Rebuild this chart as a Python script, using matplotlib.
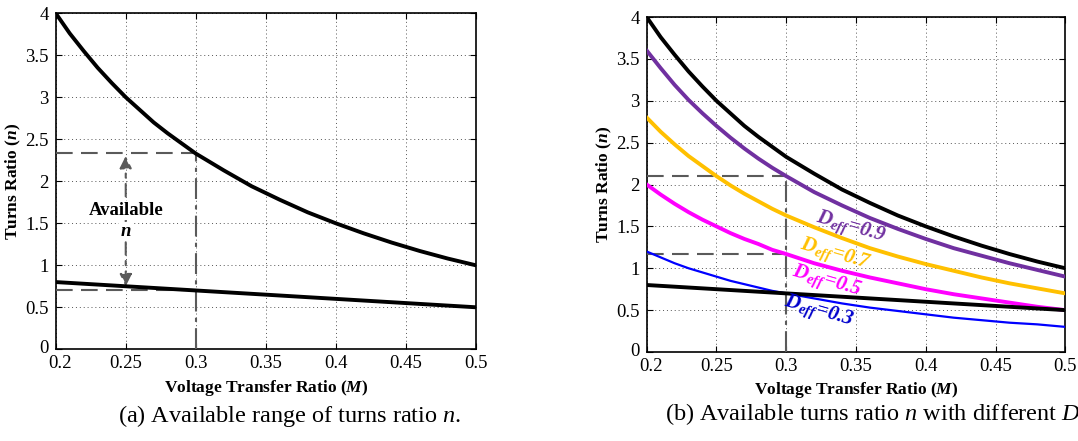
import numpy as np
import matplotlib.pyplot as plt
from matplotlib.transforms import ScaledTranslation

plt.rcParams['font.family'] = 'Liberation Serif'
plt.rcParams['mathtext.fontset'] = 'custom'
plt.rcParams['mathtext.rm'] = 'Liberation Serif'
plt.rcParams['mathtext.it'] = 'Liberation Serif:italic'
plt.rcParams['mathtext.bf'] = 'Liberation Serif:bold'
plt.rcParams['mathtext.bfit'] = 'Liberation Serif:bold:italic'

# voltage transfer ratio samples
M = [0.20, 0.21, 0.22, 0.23, 0.24, 0.25, 0.26, 0.27, 0.28, 0.29, 0.30,
     0.32, 0.34, 0.36, 0.38, 0.40, 0.42, 0.44, 0.46, 0.48, 0.50]

# upper and lower bound of the turns ratio
n_upper = [4.00, 3.76, 3.55, 3.35, 3.17, 3.00, 2.85, 2.70, 2.57, 2.45, 2.33,
           2.13, 1.94, 1.78, 1.63, 1.50, 1.38, 1.27, 1.17, 1.08, 1.00]
n_lower = [0.80, 0.79, 0.78, 0.77, 0.76, 0.75, 0.74, 0.73, 0.72, 0.71, 0.70,
           0.68, 0.66, 0.64, 0.62, 0.60, 0.58, 0.56, 0.54, 0.52, 0.50]

# turns ratio for several effective duty cycles
n_d09 = [3.60, 3.39, 3.19, 3.01, 2.85, 2.70, 2.56, 2.43, 2.31, 2.20, 2.10,
         1.91, 1.75, 1.60, 1.47, 1.35, 1.24, 1.15, 1.06, 0.98, 0.90]
n_d07 = [2.80, 2.63, 2.48, 2.34, 2.22, 2.10, 1.99, 1.89, 1.80, 1.71, 1.63,
         1.49, 1.36, 1.24, 1.14, 1.05, 0.97, 0.89, 0.82, 0.76, 0.70]
n_d05 = [2.00, 1.88, 1.77, 1.67, 1.58, 1.50, 1.42, 1.35, 1.29, 1.22, 1.17,
         1.06, 0.97, 0.89, 0.82, 0.75, 0.69, 0.64, 0.59, 0.54, 0.50]
n_d03 = [1.20, 1.13, 1.06, 1.00, 0.95, 0.90, 0.85, 0.81, 0.77, 0.73, 0.70,
         0.64, 0.58, 0.53, 0.49, 0.45, 0.41, 0.38, 0.35, 0.33, 0.30]

x_ticks = [0.2, 0.25, 0.3, 0.35, 0.4, 0.45, 0.5]
x_labels = ['0.2', '0.25', '0.3', '0.35', '0.4', '0.45', '0.5']
y_ticks = [0, 0.5, 1, 1.5, 2, 2.5, 3, 3.5, 4]
y_labels = ['0', '0.5', '1', '1.5', '2', '2.5', '3', '3.5', '4']

# operating point used for the guide lines
M_op = 0.3
n_max_a = 2.333
n_min_a = 0.70
n_max_b = 2.10
n_min_b = 1.167

guide = '#5a5a5a'

fig = plt.figure(figsize=(10.78, 4.41), dpi=100)
ax1 = fig.add_axes([0.0517, 0.208, 0.3896, 0.762])
ax2 = fig.add_axes([0.5999, 0.2018, 0.3883, 0.7596])


def style_axes(ax):
    ax.set_xlim(0.2, 0.5)
    ax.set_ylim(0, 4)
    ax.set_xticks(x_ticks)
    ax.set_xticklabels(x_labels)
    ax.set_yticks(y_ticks)
    ax.set_yticklabels(y_labels)
    ax.tick_params(direction='in', length=4, width=0.8, labelsize=13.5,
                   top=True, right=True)
    ax.tick_params(axis='x', pad=4)
    ax.tick_params(axis='y', pad=5)
    ax.grid(True, linestyle=(0, (1, 3)), color='#555555', linewidth=0.7)
    for s in ax.spines.values():
        s.set_linewidth(1.2)
    ax.set_xlabel(r'Voltage Transfer Ratio ($\mathbfit{M}$)',
                  fontsize=12.5, fontweight='bold')
    ax.set_ylabel(r'Turns Ratio ($\mathbfit{n}$)',
                  fontsize=12.5, fontweight='bold')
    ax.xaxis.set_label_coords(0.5, -0.085)
    ax.yaxis.set_label_coords(-0.078, 0.5)
    # keep the corner labels "0" and "0.2" apart
    fig.canvas.draw()
    ax.get_xticklabels()[0].set_transform(
        ax.get_xticklabels()[0].get_transform()
        + ScaledTranslation(4 / 100, 0, fig.dpi_scale_trans))
    ax.get_yticklabels()[0].set_transform(
        ax.get_yticklabels()[0].get_transform()
        + ScaledTranslation(0, 3 / 100, fig.dpi_scale_trans))


# (a) available range
style_axes(ax1)
ax1.plot(M, n_upper, color='black', lw=2.8, zorder=4)
ax1.plot([0.2, M_op], [n_min_a, n_min_a], color=guide, lw=1.5,
         dashes=(8, 4), zorder=3)
ax1.plot(M, n_lower, color='black', lw=2.8, zorder=4)
ax1.plot([0.2, M_op], [n_max_a, n_max_a], color=guide, lw=1.5,
         dashes=(8, 4), zorder=3)
ax1.plot([M_op, M_op], [0, n_max_a], color=guide, lw=1.5,
         dashes=(10, 3, 2, 3), zorder=3)
ax1.annotate('', xy=(0.25, 2.30), xytext=(0.25, 0.75),
             arrowprops=dict(arrowstyle='<|-|>', color=guide, lw=1.5,
                             linestyle=(0, (6, 3, 2, 3)),
                             mutation_scale=18, shrinkA=0, shrinkB=0),
             zorder=3)
ax1.text(0.25, 1.65, 'Available', ha='center', va='center', fontsize=13.5,
         fontweight='bold', zorder=5,
         bbox=dict(facecolor='white', edgecolor='none', pad=1))
ax1.text(0.25, 1.40, 'n', ha='center', va='center', fontsize=13.5,
         fontweight='bold', style='italic', zorder=5,
         bbox=dict(facecolor='white', edgecolor='none', pad=1))

# (b) different effective duty cycles
style_axes(ax2)
ax2.plot([0.2, M_op], [n_max_b, n_max_b], color=guide, lw=1.5,
         dashes=(8, 4), zorder=3)
ax2.plot([0.2, M_op], [n_min_b, n_min_b], color=guide, lw=1.5,
         dashes=(8, 4), zorder=3)
ax2.plot([M_op, M_op], [0, n_max_b], color=guide, lw=1.5,
         dashes=(10, 3, 2, 3), zorder=3)
ax2.plot(M, n_upper, color='black', lw=2.8, zorder=4)
ax2.plot(M, n_d09, color='#7030A0', lw=2.8, zorder=4)
ax2.plot(M, n_d07, color='#FFC000', lw=2.8, zorder=4)
ax2.plot(M, n_d05, color='#FF00FF', lw=2.8, zorder=4)
ax2.plot(M, n_d03, color='#0000FF', lw=1.6, zorder=4)
ax2.plot(M, n_lower, color='black', lw=2.8, zorder=4)

labels_b = [(0.346, 1.49, '0.9', '#7030A0'),
            (0.335, 1.16, '0.7', '#FFC000'),
            (0.329, 0.84, '0.5', '#FF00FF'),
            (0.323, 0.48, '0.3', '#0000CC')]
for x, y, d, c in labels_b:
    ax2.text(x, y, r'$\mathbfit{D}_{\mathbfit{eff}}$=' + d,
             color=c, fontsize=15, fontweight='bold', style='italic',
             rotation=-16, ha='center', va='center', zorder=6)

# captions
fig.text(290 / 1078, 1 - 416 / 441,
         r'(a) Available range of turns ratio $\mathit{n}$.',
         ha='center', va='center', fontsize=17.5)
fig.text(665 / 1078, 1 - 416 / 441,
         r'(b) Available turns ratio $\mathit{n}$ with different $\mathit{D_{eff}}$.',
         ha='left', va='center', fontsize=17.5)

fig.savefig('out.png', dpi=100)
